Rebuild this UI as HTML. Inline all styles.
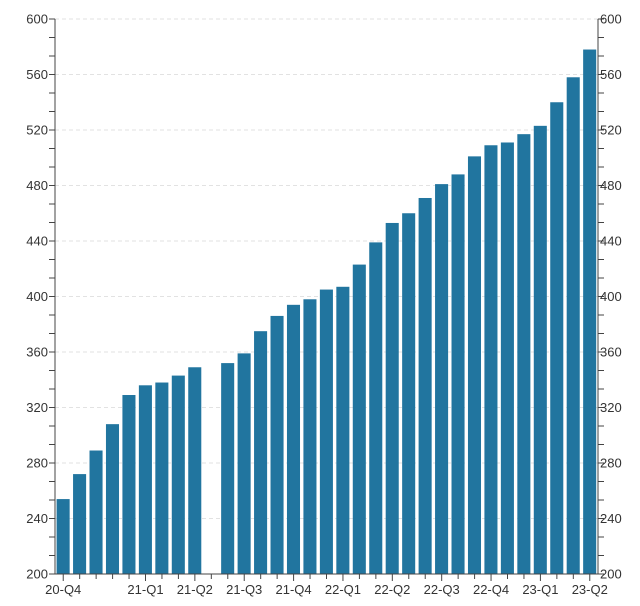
<!DOCTYPE html>
<html><head><meta charset="utf-8"><style>
html,body{margin:0;padding:0;background:#fff;}
svg{display:block;font-family:"Liberation Sans","DejaVu Sans",sans-serif;}
</style></head><body>
<svg id="chart" width="640" height="606" viewBox="0 0 640 606"></svg>
<script>
const categories = ["20-Q4","","","","","21-Q1","","","21-Q2","","","21-Q3","","","21-Q4","","","22-Q1","","","22-Q2","","","22-Q3","","","22-Q4","","","23-Q1","","","23-Q2"];
const values = [254,272,289,308,329,336,338,343,349,null,352,359,375,386,394,398,405,407,423,439,453,460,471,481,488,501,509,511,517,523,540,558,578];
const yTicks = [200,240,280,320,360,400,440,480,520,560,600];

const NS="http://www.w3.org/2000/svg";
const svg=document.getElementById('chart');
const L=55,R=598,T=19,B=574,yMin=200,yMax=600;
const y=v=>B-(v-yMin)/(yMax-yMin)*(B-T);
const slot=(R-L)/values.length;
const x=i=>L+slot*i;
function mk(tag,attrs){const e=document.createElementNS(NS,tag);for(const k in attrs)e.setAttribute(k,attrs[k]);svg.appendChild(e);return e;}
yTicks.forEach(t=>{
  const g=mk('line',{x1:L,x2:R,y1:y(t),y2:y(t),stroke:'#e2e2e2','stroke-dasharray':'4,3'});
  
  
});
values.forEach((v,i)=>{
  if(v==null)return;
  const r=mk('rect',{x:x(i)+1.6,y:y(v),width:slot-3.4,height:B-y(v),fill:'#21759f'});
  
  
});
['left','right'].forEach(side=>{
  const ax=side==='left'?L:R;
  const a=mk('line',{x1:ax,x2:ax,y1:T,y2:B,stroke:'#444'});
  
  
  for(let k=0;k<=30;k++){
    const v=yMin+k*40/3;const yy=y(v);
    mk('line',{x1:side==='left'?ax-6:ax,x2:side==='left'?ax:ax+6,y1:yy,y2:yy,stroke:'#444'});
  }
  yTicks.forEach(t=>{
    const tx=mk('text',{x:side==='left'?ax-7:ax+2,y:y(t)+4.5,'font-size':13,fill:'#333','text-anchor':side==='left'?'end':'start'});
    tx.textContent=t;
    
    
  });
});
const xa=mk('line',{x1:L,x2:R,y1:B,y2:B,stroke:'#444'});


categories.forEach((c,i)=>{
  const cx=x(i)+slot/2;
  mk('line',{x1:cx,x2:cx,y1:B,y2:B+(c?7:5),stroke:'#444'});
  if(c){
    const t=mk('text',{x:cx,y:B+20,'font-size':13,fill:'#333','text-anchor':'middle'});
    t.textContent=c;
    
    
  }
});
</script>
</body></html>
